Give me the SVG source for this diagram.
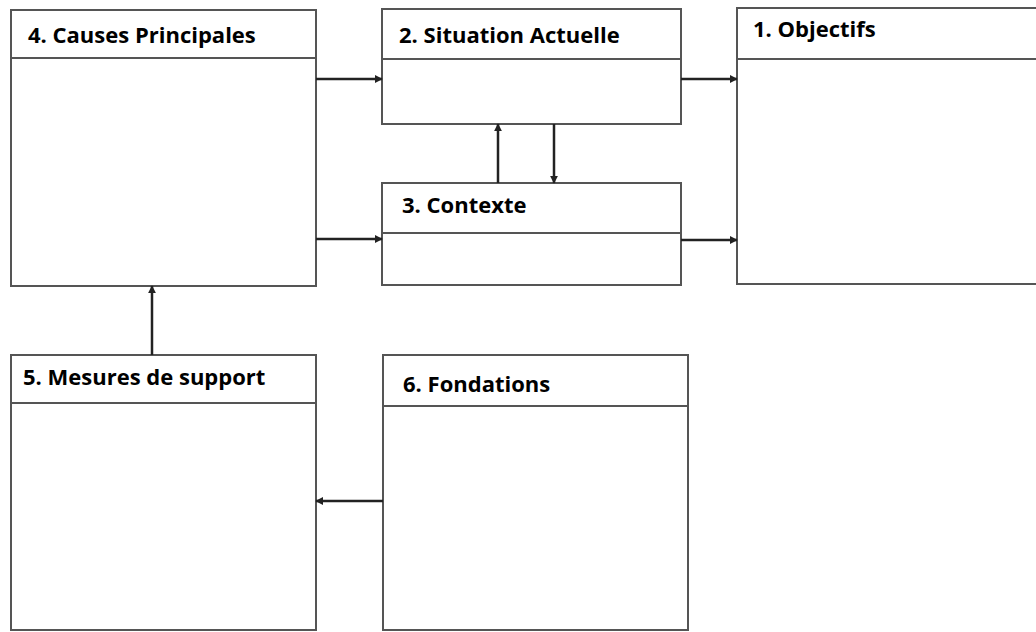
<svg xmlns="http://www.w3.org/2000/svg" width="1036" height="632" viewBox="0 0 1036 632">
<style>
.box{fill:#fff;stroke:#555;stroke-width:2}
.div{stroke:#555;stroke-width:2}
.lbl{font-family:"Open Sans","Liberation Sans",sans-serif;font-weight:700;font-size:22px;fill:#000}
.conn{stroke:#222;stroke-width:2.5;fill:none;marker-end:url(#ah)}
</style>
<defs>
<marker id="ah" viewBox="0 0 10 10" refX="9" refY="5" markerWidth="3.2" markerHeight="3.2" orient="auto" markerUnits="strokeWidth">
<path d="M0,0 L10,5 L0,10 z" fill="#222"/>
</marker>
</defs>
<rect width="1036" height="632" fill="#fff"/>
<g id="n4">
<rect class="box" x="11" y="10" width="305" height="276"/>
<line class="div" x1="11" y1="58" x2="316" y2="58"/>
<text class="lbl" x="28" y="43">4. Causes Principales</text>
</g>
<g id="n2">
<rect class="box" x="382" y="9" width="299" height="115"/>
<line class="div" x1="382" y1="59" x2="681" y2="59"/>
<text class="lbl" x="399" y="43">2. Situation Actuelle</text>
</g>
<g id="n3">
<rect class="box" x="382" y="183" width="299" height="102"/>
<line class="div" x1="382" y1="233" x2="681" y2="233"/>
<text class="lbl" x="402" y="213">3. Contexte</text>
</g>
<g id="n1">
<rect class="box" x="737" y="8" width="310" height="276"/>
<line class="div" x1="737" y1="59" x2="1040" y2="59"/>
<text class="lbl" x="753" y="37">1. Objectifs</text>
</g>
<g id="n5">
<rect class="box" x="11" y="355" width="305" height="275"/>
<line class="div" x1="11" y1="403" x2="316" y2="403"/>
<text class="lbl" x="23" y="385">5. Mesures de support</text>
</g>
<g id="n6">
<rect class="box" x="383" y="355" width="305" height="275"/>
<line class="div" x1="383" y1="406" x2="688" y2="406"/>
<text class="lbl" x="403" y="392">6. Fondations</text>
</g>
<g id="connectors">
<line class="conn" x1="316" y1="79" x2="382" y2="79"/>
<line class="conn" x1="681" y1="79" x2="737" y2="79"/>
<line class="conn" x1="316" y1="239" x2="382" y2="239"/>
<line class="conn" x1="681" y1="240" x2="737" y2="240"/>
<line class="conn" x1="498" y1="183" x2="498" y2="124"/>
<line class="conn" x1="554" y1="124" x2="554" y2="183"/>
<line class="conn" x1="152" y1="355" x2="152" y2="286"/>
<line class="conn" x1="383" y1="501" x2="316" y2="501"/>
</g>
</svg>
